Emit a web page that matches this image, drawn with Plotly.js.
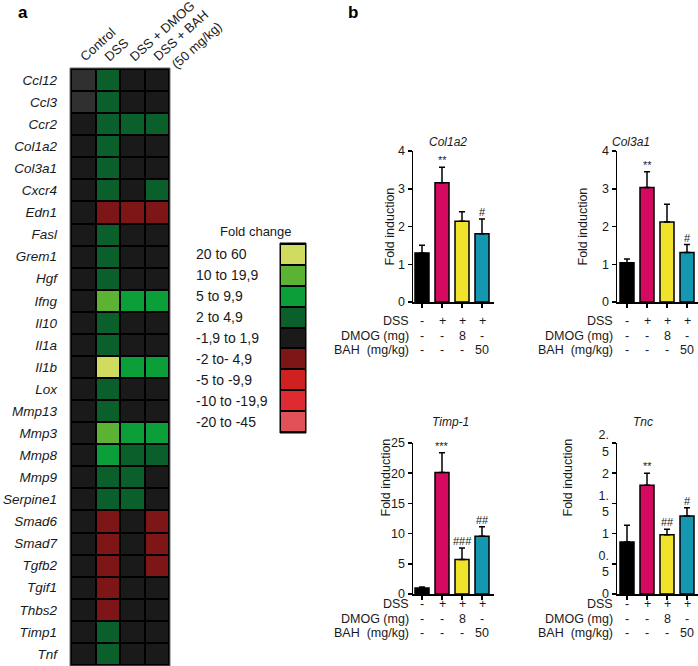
<!DOCTYPE html>
<html>
<head>
<meta charset="utf-8">
<script src="https://cdn.plot.ly/plotly-3.0.1.min.js"></script>
<style>
  html, body { margin: 0; padding: 0; background: #ffffff; }
  #fig { width: 698px; height: 666px; }
</style>
</head>
<body>
<div id="fig"></div>
<script>
//------------------------------------------ data - start ------------------------------------------
var genes = ['Ccl12', 'Ccl3', 'Ccr2', 'Col1a2', 'Col3a1', 'Cxcr4', 'Edn1', 'Fasl', 'Grem1', 'Hgf',
             'Ifng', 'Il10', 'Il1a', 'Il1b', 'Lox', 'Mmp13', 'Mmp3', 'Mmp8', 'Mmp9', 'Serpine1',
             'Smad6', 'Smad7', 'Tgfb2', 'Tgif1', 'Thbs2', 'Timp1', 'Tnf'];
var conditions = ['Control', 'DSS', 'DSS + DMOG', 'DSS + BAH<br>(50 mg/kg)'];

// fold change bins (index = code used in the heatmap columns), 9 = not determined (grey)
var foldLabels = ['20 to 60', '10 to 19,9', '5 to 9,9', '2 to 4,9', '-1,9 to 1,9',
                  '-2 to- 4,9', '-5 to -9,9', '-10 to -19,9', '-20 to -45'];
var foldColors = ['#cfdc5f', '#5cb233', '#0c9e39', '#0b5f2b', '#1a1a1a',
                  '#7e1517', '#cf2220', '#e02a32', '#e35158', '#303030'];

var colControl = [9, 9, 4, 4, 4, 4, 4, 4, 4, 4, 4, 4, 4, 4, 4, 4, 4, 4, 4, 4, 4, 4, 4, 4, 4, 4, 4];
var colDss     = [3, 3, 3, 3, 3, 3, 5, 3, 3, 3, 1, 3, 3, 0, 3, 3, 1, 2, 3, 3, 5, 5, 5, 5, 5, 3, 3];
var colDmog    = [4, 4, 3, 4, 4, 4, 5, 4, 4, 4, 2, 4, 4, 2, 4, 4, 2, 3, 3, 3, 4, 4, 4, 4, 4, 4, 4];
var colBah     = [4, 4, 3, 4, 4, 3, 5, 4, 4, 4, 2, 4, 4, 2, 4, 4, 2, 3, 4, 4, 5, 5, 5, 4, 4, 4, 4];

// bar charts (b): Control, DSS, DSS+DMOG, DSS+BAH
var barGroups = [0, 1, 2, 3];
var barColors = ['#000000', '#d30a60', '#f1e22b', '#1597b1'];

var col1a2Mean = [1.3, 3.16, 2.14, 1.81];
var col1a2Err  = [0.2, 0.41, 0.25, 0.39];
var col1a2Sig  = ['', '**', '', '#'];

var col3a1Mean = [1.04, 3.03, 2.12, 1.31];
var col3a1Err  = [0.1, 0.42, 0.47, 0.21];
var col3a1Sig  = ['', '**', '', '#'];

var timp1Mean = [1.0, 20.1, 5.7, 9.55];
var timp1Err  = [0.15, 3.3, 1.9, 1.6];
var timp1Sig  = ['', '***', '###', '##'];

var tncMean = [0.86, 1.8, 0.98, 1.29];
var tncErr  = [0.28, 0.2, 0.09, 0.14];
var tncSig  = ['', '**', '##', '#'];

var rowDss  = ['-', '+', '+', '+'];
var rowDmog = ['-', '-', '8', '-'];
var rowBah  = ['-', '-', '-', '50'];
var rowNames = ['DSS', 'DMOG (mg)', 'BAH  (mg/kg)'];
//------------------------------------------ data - end --------------------------------------------

var W = 698, H = 666;
function px(x) { return x / W; }
function py(y) { return 1 - y / H; }

var fam = 'Liberation Sans, Arial, sans-serif';
var ink = '#1a1a1a';

// discrete colorscale
var scale = [];
foldColors.forEach(function (c, i) {
  scale.push([i / foldColors.length, c]);
  scale.push([(i + 1) / foldColors.length, c]);
});

var zHeat = genes.map(function (g, i) {
  return [colControl[i], colDss[i], colDmog[i], colBah[i]];
});

var heat = {
  type: 'heatmap', x: conditions, y: genes, z: zHeat,
  xaxis: 'x', yaxis: 'y',
  colorscale: scale, zmin: -0.5, zmax: foldColors.length - 0.5,
  showscale: false, xgap: 2, ygap: 2, hoverinfo: 'y+x'
};

var key = {
  type: 'heatmap', x: ['fc'], y: foldLabels,
  z: foldLabels.map(function (l, i) { return [i]; }),
  xaxis: 'x2', yaxis: 'y2',
  colorscale: scale, zmin: -0.5, zmax: foldColors.length - 0.5,
  showscale: false, ygap: 2, hoverinfo: 'y'
};

var panels = [
  { name: 'Col1a2', mean: col1a2Mean, err: col1a2Err, sig: col1a2Sig, ax: '3' },
  { name: 'Col3a1', mean: col3a1Mean, err: col3a1Err, sig: col3a1Sig, ax: '4' },
  { name: 'Timp-1', mean: timp1Mean, err: timp1Err, sig: timp1Sig, ax: '5' },
  { name: 'Tnc',    mean: tncMean,    err: tncErr,    sig: tncSig,    ax: '6' }
];

var data = [heat, key];
panels.forEach(function (p) {
  data.push({
    type: 'bar', x: barGroups, y: p.mean,
    xaxis: 'x' + p.ax, yaxis: 'y' + p.ax,
    width: 0.7,
    marker: { color: barColors, line: { color: '#000000', width: 1.5 } },
    error_y: { type: 'data', array: p.err, arrayminus: [0, 0, 0, 0], symmetric: false,
               color: '#000000', thickness: 1.5, width: 3 },
    hoverinfo: 'y'
  });
});

// bar panel geometry (pixels)
var geo = {
  '3': { x0: 413, x1: 494, y0: 302, y1: 151, range: [-0.45, 3.6], yr: [0, 4], titleX: 448, titleY: 133, labelX: 411, yTitleX: 390 },
  '4': { x0: 617, x1: 698, y0: 302, y1: 151, range: [-0.5, 3.55], yr: [0, 4], titleX: 652, titleY: 133, labelX: 615, yTitleX: 592 },
  '5': { x0: 413, x1: 494, y0: 594, y1: 443, range: [-0.45, 3.6], yr: [0, 25], titleX: 450, titleY: 422, labelX: 411, yTitleX: 385 },
  '6': { x0: 617, x1: 698, y0: 594, y1: 443, range: [-0.5, 3.55], yr: [0, 2.5], titleX: 655, titleY: 422, labelX: 615, yTitleX: 576 }
};

var layout = {
  width: W, height: H,
  margin: { t: 0, r: 0, l: 0, b: 0 },
  paper_bgcolor: '#ffffff',
  plot_bgcolor: 'rgba(0,0,0,0)',
  font: { family: fam, size: 12, color: ink },
  showlegend: false,
  xaxis: {
    domain: [px(71), px(169)], side: 'top', type: 'category',
    showticklabels: false, ticks: '', showgrid: false, zeroline: false, fixedrange: true
  },
  yaxis: {
    domain: [py(665), py(69)], type: 'category', autorange: 'reversed',
    ticks: '', showgrid: false, zeroline: false, fixedrange: true, ticklabelstandoff: 13,
    tickfont: { family: fam, size: 13.5, color: ink, style: 'italic' }
  },
  xaxis2: { domain: [px(281), px(305)], anchor: 'y2', showticklabels: false, ticks: '',
            showgrid: false, zeroline: false, fixedrange: true },
  yaxis2: { domain: [py(432), py(244)], anchor: 'x2', type: 'category', autorange: 'reversed',
            showticklabels: false, ticks: '', showgrid: false, zeroline: false, fixedrange: true },
  shapes: [
    { type: 'rect', xref: 'paper', yref: 'paper', x0: px(70), x1: px(170), y0: py(666), y1: py(68),
      fillcolor: '#000000', line: { color: '#6e6e6e', width: 1 }, layer: 'below' },
    { type: 'rect', xref: 'paper', yref: 'paper', x0: px(280), x1: px(306), y0: py(433), y1: py(243),
      fillcolor: '#000000', line: { color: '#000000', width: 1 }, layer: 'below' }
  ],
  annotations: [
    { text: '<b>a</b>', xref: 'paper', yref: 'paper', x: px(16), y: py(12), xanchor: 'left', yanchor: 'middle',
      showarrow: false, font: { family: fam, size: 17, color: '#000' } },
    { text: '<b>b</b>', xref: 'paper', yref: 'paper', x: px(346), y: py(12), xanchor: 'left', yanchor: 'middle',
      showarrow: false, font: { family: fam, size: 17, color: '#000' } },
    { text: 'Fold change', xref: 'paper', yref: 'paper', x: px(256), y: py(232),
      showarrow: false, font: { family: fam, size: 13, color: ink } }
  ]
};

// rotated column headers (one annotation per text line)
var colW = (169 - 71) / conditions.length;
conditions.forEach(function (c, i) {
  var cx = 71 + (i + 0.5) * colW;
  c.split('<br>').forEach(function (line, k) {
    layout.annotations.push({
      text: line, textangle: -42, xref: 'paper', yref: 'paper',
      x: px(cx - 9 + k * 18), y: py(67 + k * 8), xanchor: 'left', yanchor: 'bottom',
      showarrow: false, font: { family: fam, size: 13, color: ink }
    });
  });
});

foldLabels.forEach(function (l) {
  layout.annotations.push({
    text: l, xref: 'paper', yref: 'y2', x: px(194), y: l, xanchor: 'left',
    showarrow: false, font: { family: fam, size: 14, color: ink }
  });
});

panels.forEach(function (p) {
  var g = geo[p.ax];
  layout['xaxis' + p.ax] = {
    domain: [px(g.x0), px(g.x1)], anchor: 'y' + p.ax, range: g.range,
    tickvals: barGroups, showticklabels: false, ticks: 'outside', ticklen: 4, tickwidth: 1.5,
    tickcolor: '#000', showline: true, linecolor: '#000', linewidth: 1.5,
    showgrid: false, zeroline: false, fixedrange: true
  };
  var ya = {
    domain: [py(g.y0), py(g.y1)], anchor: 'x' + p.ax, range: g.yr,
    ticks: 'outside', ticklen: 4, tickwidth: 1.5, tickcolor: '#000',
    showline: true, linecolor: '#000', linewidth: 1.5,
    showgrid: false, zeroline: false, fixedrange: true,
    tickfont: { family: fam, size: 12.5, color: ink }
  };
  if (p.ax === '5') { ya.tickvals = [0, 5, 10, 15, 20, 25]; }
  else if (p.ax === '6') {
    ya.tickvals = [0, 0.5, 1, 1.5, 2, 2.5];
    ya.ticktext = ['0', '0.<br>5', '1', '1.<br>5', '2', '2.<br>5'];
  } else { ya.tickvals = [0, 1, 2, 3, 4]; }
  layout['yaxis' + p.ax] = ya;

  // y title
  layout.annotations.push({
    text: 'Fold induction', textangle: -90, xref: 'paper', yref: 'paper',
    x: px(g.yTitleX), y: py((g.y0 + g.y1) / 2), showarrow: false,
    font: { family: fam, size: 12.5, color: ink }
  });
  // gene title
  layout.annotations.push({
    text: '<i>' + p.name + '</i>', xref: 'paper', yref: 'paper', x: px(g.titleX), y: py(g.titleY),
    showarrow: false, font: { family: fam, size: 12, color: ink }
  });
  // significance marks
  p.sig.forEach(function (s, i) {
    if (!s) return;
    layout.annotations.push({
      text: s, xref: 'x' + p.ax, yref: 'y' + p.ax, x: barGroups[i], y: p.mean[i] + p.err[i],
      yanchor: 'bottom', yshift: -1, showarrow: false,
      font: { family: fam, size: 11, color: ink }
    });
  });
  // treatment table
  [rowDss, rowDmog, rowBah].forEach(function (row, r) {
    var yy = py(g.y0 + 19 + r * 14.5);
    layout.annotations.push({
      text: rowNames[r], xref: 'paper', yref: 'paper', x: px(g.labelX), y: yy, xanchor: 'right',
      showarrow: false, font: { family: fam, size: 12.5, color: ink }
    });
    row.forEach(function (v, i) {
      layout.annotations.push({
        text: v, xref: 'x' + p.ax, yref: 'paper', x: barGroups[i], y: yy,
        showarrow: false, font: { family: fam, size: 12.5, color: ink }
      });
    });
  });
});

Plotly.newPlot('fig', data, layout, { displayModeBar: false, staticPlot: true });
</script>
</body>
</html>
